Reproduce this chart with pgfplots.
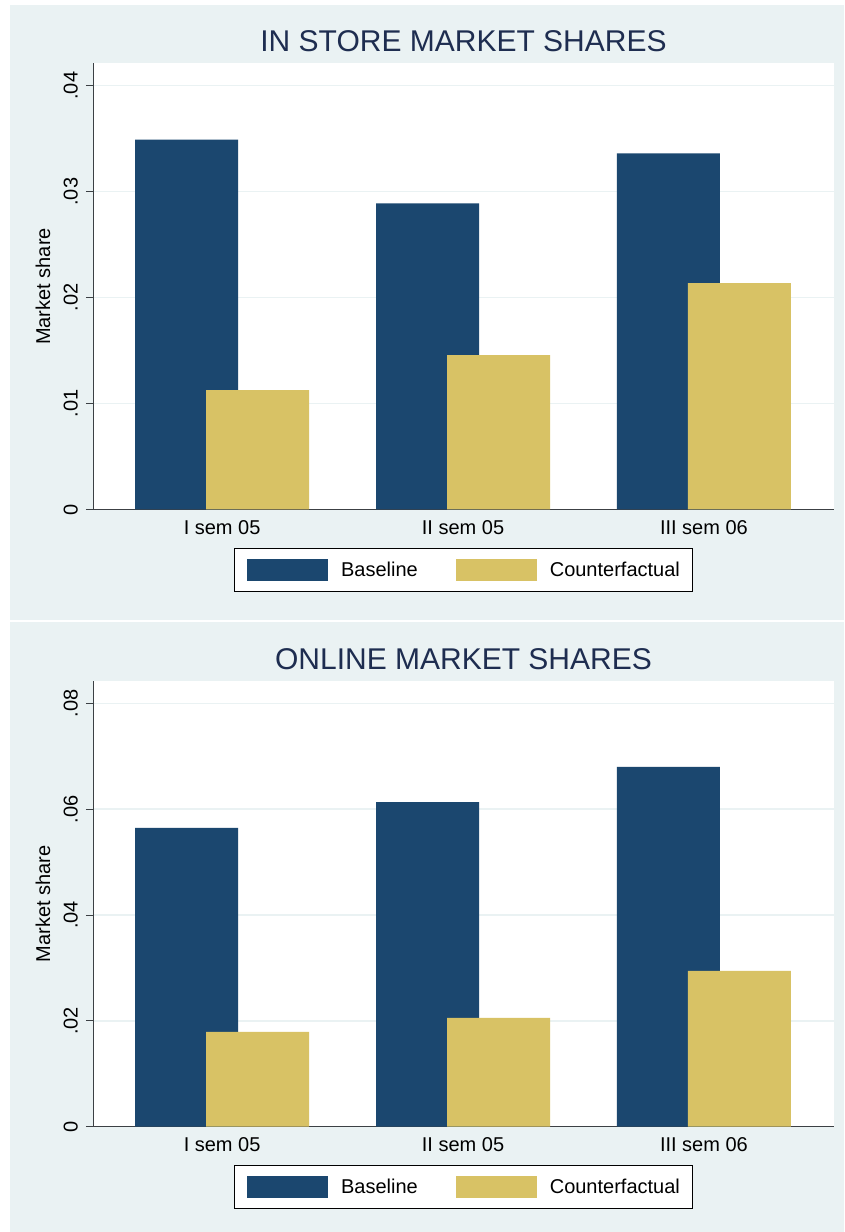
\documentclass[border=0pt]{standalone}
\usepackage{fontspec}
\setmainfont{Liberation Sans}
\usepackage{pgfplots}
\pgfplotsset{compat=1.18}
\definecolor{bgc}{RGB}{234,242,243}
\definecolor{sblue}{RGB}{27,71,111}
\definecolor{syel}{RGB}{216,194,101}
\definecolor{titlec}{RGB}{30,45,80}
\definecolor{axc}{RGB}{60,64,68}
\pgfplotsset{
  panel/.style={
    width=741pt, height=446pt, scale only axis,
    xmin=-0.536, xmax=2.540, ymin=0,
    scaled y ticks=false,
    axis x line*=bottom, axis y line*=left,
    x axis line style={-, line width=1.6pt, color=axc},
    y axis line style={-, line width=0.9pt, color=axc},
    axis background/.style={fill=white},
    xtick={0,1,2}, xticklabels={I sem 05, II sem 05, III sem 06},
    xtick style={draw=none},
    ytick style={line width=0.9pt, color=axc},
    tick align=outside, major tick length=7pt,
    ymajorgrids, major grid style={color=bgc, line width=1.4pt},
    tick label style={font=\fontsize{20}{24}\selectfont},
    /pgf/number format/assume math mode=true,
    xticklabel style={anchor=north, inner sep=0pt, yshift=-3.5pt},
    yticklabel style={xshift=-8pt, rotate=90, anchor=south, inner sep=0pt},
    ylabel={Market share},
    every axis y label/.style={at={(axis description cs:-0.0675,0.5)}, rotate=90, anchor=center, inner sep=0pt, font=\fontsize{20}{24}\selectfont},
    title style={font=\fontsize{30}{35}\selectfont, color=titlec, at={(axis description cs:0.5,1)}, anchor=base, yshift=5.6pt, inner sep=0pt},
    legend style={at={(axis description cs:0.5,-0.0857)}, anchor=north, draw=black, line width=1pt, fill=white,
      font=\fontsize{20}{24}\selectfont, inner xsep=12.5pt, inner ysep=10.5pt,
      nodes={inner sep=0pt},
      /tikz/every even column/.append style={column sep=38pt}},
    legend columns=2,
    legend image code/.code={\fill[#1] (0pt,-11pt) rectangle (81pt,11pt); \path (94pt,0pt);},
  }
}
\begin{document}
\begin{tikzpicture}[x=1pt,y=1pt]
\fill[white] (0,0) rectangle (844,1232);
\fill[bgc] (10,612) rectangle (844,1227);
\fill[bgc] (10,0) rectangle (844,610);
\begin{axis}[panel, at={(93pt,722.5pt)}, anchor=south west,
  ymax=0.0421, ytick={0,0.01,0.02,0.03,0.04}, yticklabels={0,.01,.02,.03,.04},
  title={IN STORE MARKET SHARES}]
\addplot[ybar, bar width=0.4276, bar shift=-0.1474, fill=sblue, draw=none] coordinates {(0,0.03491) (1,0.0289) (2,0.03362)};
\addlegendentry{Baseline}
\addplot[ybar, bar width=0.4276, bar shift=0.1474, fill=syel, draw=none] coordinates {(0,0.01127) (1,0.01457) (2,0.02136)};
\addlegendentry{Counterfactual}
\end{axis}
\begin{axis}[panel, at={(93pt,105.3pt)}, anchor=south west,
  ymax=0.08427, ytick={0,0.02,0.04,0.06,0.08}, yticklabels={0,.02,.04,.06,.08},
  title={ONLINE MARKET SHARES}]
\addplot[ybar, bar width=0.4276, bar shift=-0.1474, fill=sblue, draw=none] coordinates {(0,0.05644) (1,0.06135) (2,0.06797)};
\addlegendentry{Baseline}
\addplot[ybar, bar width=0.4276, bar shift=0.1474, fill=syel, draw=none] coordinates {(0,0.0179) (1,0.02054) (2,0.02942)};
\addlegendentry{Counterfactual}
\end{axis}
\end{tikzpicture}
\end{document}
